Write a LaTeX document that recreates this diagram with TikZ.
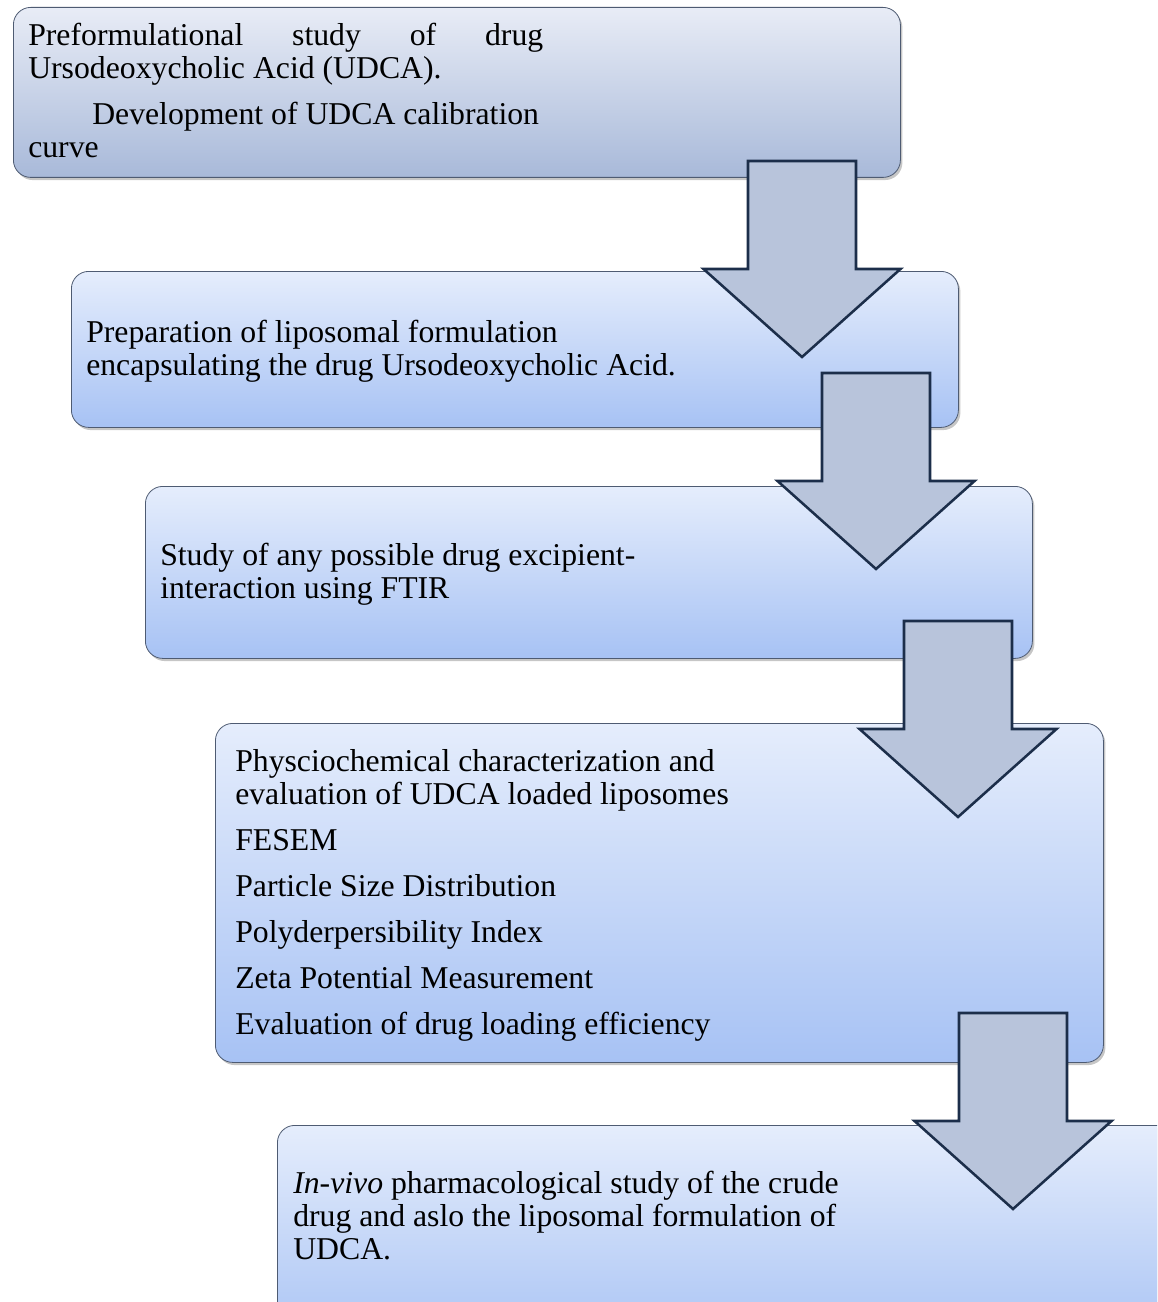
\documentclass[tikz,border=0pt]{standalone}
\usepackage{fontspec}
\setmainfont{Liberation Serif}
\usepackage{xcolor}
\usepackage{tikz}
\usetikzlibrary{shadows}
\usetikzlibrary{calc}

\definecolor{boxtopA}{HTML}{E8ECF6}
\definecolor{boxbotA}{HTML}{A8B9D9}
\definecolor{boxtop}{HTML}{E5EDFC}
\definecolor{boxbot}{HTML}{A7C2F4}
\definecolor{arrowfill}{HTML}{B8C4DB}
\definecolor{arrowline}{HTML}{1C2E4A}
\definecolor{boxline}{HTML}{4E5B72}

% block arrow pointing down, #1 = top centre of the shaft
\newcommand{\flowarrow}[1]{%
  \draw[blockarrow] ($(#1)+(-54,0)$) -- ++(108,0) -- ++(0,108) -- ++(44.5,0)
     -- ++(-98.5,88) -- ++(-98.5,-88) -- ++(44.5,0) -- cycle;}

\begin{document}
\begin{tikzpicture}[x=0.75pt,y=-0.75pt,
    stepbox/.style={draw=boxline, line width=0.6pt, rounded corners=13pt,
      anchor=north west, inner sep=0pt, top color=boxtop, bottom color=boxbot,
      drop shadow={shadow xshift=1.5pt, shadow yshift=-2pt, opacity=0.45}},
    steptext/.style={anchor=north west, inner sep=0pt, align=left,
      font=\fontsize{23.8}{24.75}\selectfont},
    blockarrow/.style={draw=arrowline, fill=arrowfill, line width=1.9pt, line join=miter}]
    \useasboundingbox (0,0) rectangle (1157,1302);
    \clip (0,0) rectangle (1157,1302);

    %coordinates
    \coordinate (LLone)   at (13,7);
    \coordinate (LLtwo)   at (71,271);
    \coordinate (LLthree) at (145,486);
    \coordinate (LLfour)  at (215,723);
    \coordinate (LLfive)  at (277,1125);

    \coordinate (Arone)   at (802,161);
    \coordinate (Artwo)   at (876,373);
    \coordinate (Arthree) at (958,621);
    \coordinate (Arfour)  at (1013,1013);

    %boxes
    \node[stepbox, top color=boxtopA, bottom color=boxbotA, minimum width=665.25pt, minimum height=127.5pt] (pre) at (LLone) {};
    \node[stepbox, minimum width=665.25pt, minimum height=117pt] (prep) at (LLtwo) {};
    \node[stepbox, minimum width=665.25pt, minimum height=129pt] (ftir) at (LLthree) {};
    \node[stepbox, minimum width=666pt, minimum height=254.25pt] (char) at (LLfour) {};
    \node[stepbox, minimum width=675pt, minimum height=170pt] (invivo) at (LLfive) {};

    %texts
    \node[steptext, text width=386.25pt, align=justify] (pretext) at (28,21.9)
      {\hyphenpenalty=10000 \tolerance=10000 \parskip=9.75pt
       \strut Preformulational study of drug Ursodeoxycholic Acid (UDCA).\par
       \hspace*{48pt}Development of UDCA calibration\newline curve};
    \node[steptext] (preptext) at (86,318.9)
      {\strut Preparation of liposomal formulation\\encapsulating the drug Ursodeoxycholic Acid.};
    \node[steptext] (ftirtext) at (160,541.9)
      {\strut Study of any possible drug excipient-\\interaction using FTIR};
    \node[steptext] (chartext) at (235,747.9)
      {\strut Physciochemical characterization and\\evaluation of UDCA loaded liposomes\\[9.75pt]
       FESEM\\[9.75pt]
       Particle Size Distribution\\[9.75pt]
       Polyderpersibility Index\\[9.75pt]
       Zeta Potential Measurement\\[9.75pt]
       Evaluation of drug loading efficiency};
    \node[steptext] (invivotext) at (293,1169.9)
      {\strut\textit{In-vivo} pharmacological study of the crude\\drug and aslo the liposomal formulation of\\UDCA.};

    %arrows
    \flowarrow{Arone}
    \flowarrow{Artwo}
    \flowarrow{Arthree}
    \flowarrow{Arfour}
\end{tikzpicture}
\end{document}
